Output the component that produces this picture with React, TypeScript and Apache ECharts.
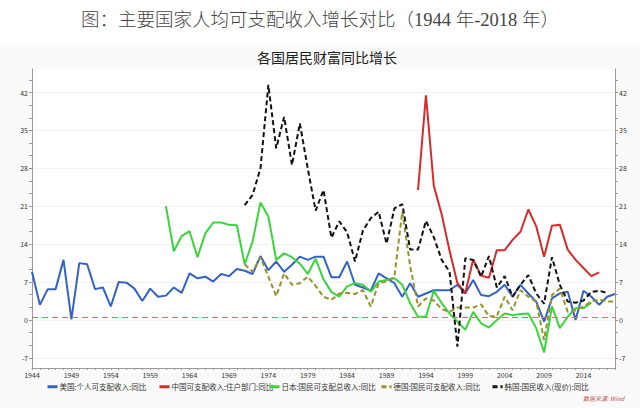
import React, { useEffect, useRef } from "react";
import * as echarts from "echarts";

const FIRST_YEAR = 1944;
const LAST_YEAR = 2018;
const years: string[] = [];
for (let y = FIRST_YEAR; y <= LAST_YEAR; y++) years.push(String(y));

const yLabels = [-7, 0, 7, 14, 21, 28, 35, 42];
const yMinorTicks = [-7, -14 / 3, -7 / 3, 0, 7 / 3, 14 / 3, 7, 28 / 3, 35 / 3, 14, 49 / 3, 56 / 3, 21, 70 / 3, 77 / 3, 28, 91 / 3, 98 / 3, 35, 112 / 3, 119 / 3, 42, 133 / 3, 140 / 3];

const seriesNames = [
  "美国:个人可支配收入:同比",
  "中国可支配收入:住户部门:同比",
  "日本:国民可支配总收入:同比",
  "德国:国民可支配收入:同比",
  "韩国:国民收入(现价):同比",
];

const usStart = 1944;
const usValues = [
  8.9, 2.8, 5.7, 5.7, 11.1, 0.1, 10.5, 10.3, 5.7, 6.0,
  2.5, 7.0, 6.9, 5.8, 3.5, 5.8, 4.3, 4.5, 6.0, 5.0,
  8.6, 7.7, 8.0, 7.1, 8.5, 8.1, 9.4, 9.1, 8.5, 11.8,
  9.2, 10.8, 8.9, 10.2, 11.7, 11.1, 11.7, 11.7, 7.9, 7.9,
  10.8, 6.5, 6.0, 5.4, 8.6, 7.7, 6.8, 4.3, 6.8, 4.3,
  4.9, 5.5, 5.5, 5.5, 6.5, 4.9, 7.4, 4.6, 4.4, 5.2,
  6.5, 4.3, 6.5, 4.9, 3.4, -0.3, 4.0, 4.9, 5.2, 0.0,
  5.4, 4.3, 2.8, 4.3, 4.8,
];

const cnStart = 1993;
const cnValues = [
  24.0, 41.5, 24.8, 19.5, 12.8, 6.8, 5.0, 11.2, 8.2, 7.8,
  12.9, 12.9, 14.8, 16.3, 20.4, 17.3, 11.7, 17.4, 17.6, 13.0,
  11.1, 9.6, 8.1, 8.8,
];

const jpStart = 1961;
const jpValues = [
  21.0, 12.7, 15.5, 16.4, 11.6, 16.0, 18.0, 18.0, 17.6, 17.5,
  10.3, 14.5, 21.7, 19.1, 11.1, 12.3, 11.6, 10.4, 8.5, 11.3,
  7.5, 5.2, 4.3, 6.2, 6.8, 6.5, 5.2, 7.1, 7.4, 7.7,
  6.5, 3.1, 0.6, 0.6, 5.4, 3.1, 1.2, -0.3, -1.8, 1.5,
  -0.6, -1.4, 0.0, 1.2, 0.9, 1.1, 1.2, -1.5, -6.0, 2.5,
  -1.5, 0.6, 2.2, 2.2, 3.2,
];

const deStart = 1971;
const deValues = [
  10.3, 8.9, 11.6, 8.0, 4.4, 8.6, 6.5, 6.8, 8.0, 6.3,
  4.3, 3.7, 4.9, 5.0, 4.8, 5.5, 2.5, 6.8, 7.1, 8.0,
  20.0, 10.0, 2.5, 4.0, 3.6, 2.0, 1.5, 2.3, 2.3, 2.3,
  2.9, 0.7, 0.7, 4.3, 1.8, 5.5, 4.3, 3.4, -3.7, 4.6,
  5.8, 1.5, 1.8, 2.5, 3.4, 3.8, 3.4, 3.4,
];

const krStart = 1971;
const krValues = [
  21.2, 23.1, 28.0, 43.4, 31.7, 37.5, 28.6, 36.3, 28.0, 20.2,
  24.0, 15.2, 18.2, 16.2, 10.8, 16.5, 18.8, 20.0, 14.1, 20.6,
  21.4, 13.0, 13.0, 18.3, 15.3, 11.1, 8.9, -4.9, 11.4, 11.1,
  8.0, 11.8, 6.0, 8.1, 4.3, 6.5, 8.3, 4.9, 3.0, 11.6,
  6.5, 3.4, 3.2, 3.6, 5.2, 5.4, 5.0,
];

const zeroLineValue = 0.5;

function align(start: number, values: number[]): (number | null)[] {
  return years.map((y) => {
    const i = Number(y) - start;
    return i >= 0 && i < values.length ? values[i] : null;
  });
}

const FONT = "'Noto Sans CJK SC', 'Noto Sans', sans-serif";
const Y_MIN = -8.86;
const Y_MAX = 46.34;

export default function App() {
  const ref = useRef<HTMLDivElement>(null);
  useEffect(() => {
    if (!ref.current) return;
    const chart = echarts.init(ref.current, undefined, { renderer: "svg" });
    const colors = ["#3462c6", "#d42b2b", "#3cd43c", "#94942a", "#111111"];
    const datasets = [
      align(usStart, usValues),
      align(cnStart, cnValues),
      align(jpStart, jpValues),
      align(deStart, deValues),
      align(krStart, krValues),
    ];
    const dashed = [false, false, false, true, true];
    const legendLefts = [46, 158, 268, 380, 491];

    const yAxisBase = (pos: "left" | "right") => ({
      type: "value",
      position: pos,
      min: Y_MIN,
      max: Y_MAX,
      axisLine: { show: true, lineStyle: { color: "#9a9a9a", width: 1 } },
      axisTick: { show: true, length: 3, customValues: yMinorTicks, lineStyle: { color: "#9a9a9a" } },
      axisLabel: {
        show: true,
        customValues: yLabels,
        fontSize: 7,
        color: "#333",
        margin: 4,
        fontFamily: FONT,
        formatter: (v: number) => String(Math.round(v)),
      },
      splitLine: { show: false },
    });

    chart.setOption({
      animation: false,
      backgroundColor: "#ffffff",
      textStyle: { fontFamily: FONT },
      graphic: [
        {
          type: "rect",
          left: 0,
          top: 46,
          z: -10,
          silent: true,
          shape: { width: 640, height: 362 },
          style: { fill: "#fafafa" },
        },
        {
          type: "text",
          left: 583,
          top: 395,
          style: { text: "数据来源: Wind", fontSize: 6, fill: "#c0504d", fontFamily: FONT, fontStyle: "italic" },
        },
      ],
      title: [
        {
          text: "图：主要国家人均可支配收入增长对比（1944 年-2018 年）",
          left: "center",
          top: 6,
          textStyle: {
            fontFamily: "'Liberation Serif', 'Noto Sans CJK SC', serif",
            fontSize: 18.5,
            fontWeight: 300,
            color: "#444",
          },
        },
        {
          text: "各国居民财富同比增长",
          left: 322,
          textAlign: "center",
          top: 45,
          textStyle: { fontFamily: FONT, fontSize: 14, fontWeight: "normal", color: "#222" },
        },
      ],
      grid: {
        left: 32,
        right: 25,
        top: 69,
        bottom: 40,
        show: true,
        backgroundColor: "#ffffff",
        borderWidth: 0,
      },
      legend: seriesNames.map((name, i) => ({
        data: [name],
        left: legendLefts[i],
        top: 383,
        padding: 0,
        itemWidth: 10,
        itemHeight: 6,
        itemGap: 2,
        itemStyle: { opacity: 0 },
        lineStyle: { width: 3 },
        textStyle: { fontSize: 7.5, color: "#333", fontFamily: FONT, padding: [0, 0, 0, -3] },
      })),
      xAxis: {
        type: "category",
        data: years,
        boundaryGap: false,
        axisLine: { show: true, onZero: false, lineStyle: { color: "#9a9a9a" } },
        axisTick: { show: true, interval: 0, length: 2, lineStyle: { color: "#9a9a9a" } },
        axisLabel: { interval: 4, fontSize: 7, color: "#333", margin: 3, fontFamily: FONT },
        splitLine: { show: false },
      },
      yAxis: [
        yAxisBase("left"),
        yAxisBase("right"),
        {
          type: "value",
          position: "left",
          min: Y_MIN,
          max: Y_MAX,
          axisLine: { show: false },
          axisTick: { show: false, customValues: yLabels },
          axisLabel: { show: false, customValues: yLabels },
          splitLine: { show: true, lineStyle: { color: "#f0f0f0", width: 1 } },
        },
      ],
      series: seriesNames.map((name, i) => ({
        name,
        type: "line",
        data: datasets[i],
        yAxisIndex: 0,
        showSymbol: false,
        symbol: "none",
        connectNulls: false,
        color: colors[i],
        lineStyle: {
          color: colors[i],
          width: 2,
          type: dashed[i] ? [5, 3] : "solid",
        },
        z: 3 + i,
        markLine:
          i === 0
            ? {
                silent: true,
                symbol: "none",
                label: { show: false },
                lineStyle: { color: "#e06a6a", type: [6, 4], width: 1 },
                data: [{ yAxis: zeroLineValue }],
              }
            : undefined,
      })),
    });
    return () => chart.dispose();
  }, []);
  return <div ref={ref} style={{ position: "fixed", left: 0, top: 0, width: 640, height: 408 }} />;
}
